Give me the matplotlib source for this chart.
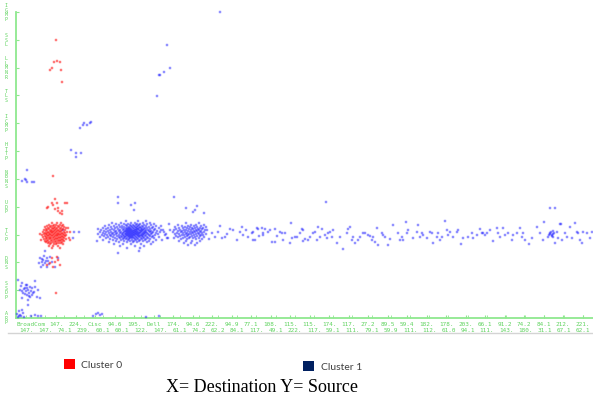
import matplotlib
matplotlib.use("Agg")
import matplotlib.pyplot as plt
from matplotlib.patches import Rectangle
from matplotlib.lines import Line2D

# ---------------- data (x: destination index, y: source index) -------------
x_labels_row1 = ["BroadCom", "147.", "224.", "Cisc", "94.6", "195.", "Dell", "174.", "94.6", "222.",
                 "94.9", "77.1", "108.", "115.", "115.", "174.", "117.", "27.2", "89.5", "59.4",
                 "182.", "178.", "203.", "66.1", "91.2", "74.2", "84.1", "212.", "221."]
x_labels_row2 = ["147.", "147.", "74.1", "239.", "60.1", "60.1", "122.", "147.", "61.1", "74.2",
                 "62.2", "84.1", "117.", "49.1", "222.", "117.", "59.1", "111.", "79.1", "59.9",
                 "111.", "112.", "61.0", "94.1", "111.", "143.", "180.", "31.1", "67.1", "62.1"]
y_labels = ["ARP", "SSDP", "DNS", "TCP", "UDP", "NBNS", "HTTP", "ICMP", "TLS", "LLMNR", "SSL", "IGMP"]

# Cluster 0 (red)
cluster0_points = [(40, 278), (38, 256), (41, 257), (44, 256), (36, 250), (34, 248), (45, 248), (46, 236),
                   (37, 142),
                   (39, 119), (41, 115), (36, 115), (32, 111), (42, 110), (46, 107), (49, 115), (51, 115),
                   (44, 105), (39, 109), (37, 113), (31, 110), (42, 107), (46, 104),
                   (24, 84), (53, 80), (52, 90), (25, 78), (54, 86), (54, 78),
                   (31, 53), (36, 60), (39, 56), (42, 58), (37, 51), (34, 55), (44, 53), (41, 61),
                   (40, 25)]
cluster0_blob_rows = {
    95: [36, 41, 45],
    93: [33, 38, 40, 44, 47],
    92: [31, 35, 37, 42, 46],
    91: [29, 34, 39, 43, 48],
    90: [32, 36, 38, 41, 45, 50],
    89: [30, 33, 37, 40, 44, 47],
    88: [28, 31, 35, 39, 42, 46, 49],
    87: [30, 34, 36, 38, 41, 43, 45],
    86: [27, 32, 35, 37, 40, 44, 48, 51],
    85: [29, 31, 33, 36, 39, 42, 46, 49],
    84: [28, 30, 34, 38, 41, 43, 45, 47],
    83: [26, 31, 33, 35, 37, 40, 42, 44, 48, 50],
    82: [29, 32, 36, 39, 41, 46, 49],
    81: [27, 30, 34, 38, 43, 45, 47],
    80: [31, 33, 35, 37, 40, 42, 44, 48],
    79: [28, 30, 34, 39, 41, 46, 50],
    78: [32, 36, 38, 43, 45, 47],
    77: [29, 31, 35, 40, 42, 44, 48],
    76: [30, 33, 37, 39, 46],
    75: [32, 35, 41, 43, 45],
    74: [34, 38, 40, 47],
    72: [33, 37, 42],
    70: [36, 44],
}

# Cluster 1 (blue)
cluster1_points = [(204, 306), (151, 273), (154, 250), (148, 246), (143, 243), (144, 243), (141, 222),
                   (64, 190), (67, 193), (68, 195), (71, 193), (74, 195), (75, 196),
                   (55, 168), (60, 165), (65, 165), (60, 161),
                   (11, 148), (6, 137), (9, 139), (10, 138), (11, 136), (16, 136), (18, 136),
                   (102, 121), (102, 115), (115, 113), (119, 115), (118, 108), (158, 121), (170, 110),
                   (181, 112), (179, 108), (177, 106), (188, 105), (310, 116), (534, 110), (539, 110),
                   (58, 86), (63, 86), (57, 80), (47, 88), (81, 77), (82, 89), (150, 84), (147, 88),
                   (152, 80), (102, 65), (123, 67),
                   (145, 92), (148, 86), (151, 80), (154, 88), (149, 83), (153, 94), (146, 78),
                   (29, 67), (24, 60), (27, 58), (31, 60), (26, 56), (29, 55), (32, 57), (34, 61),
                   (27, 53), (36, 56), (25, 51), (39, 51), (31, 51), (42, 60), (28, 62), (30, 57),
                   (33, 54), (26, 59), (23, 55),
                   (2, 38), (6, 35), (11, 33), (19, 37), (4, 28), (9, 30), (12, 28), (16, 30), (7, 25),
                   (11, 23), (14, 21), (17, 25), (21, 21), (12, 18), (6, 20), (24, 20), (12, 13), (22, 28),
                   (10, 27), (13, 25), (8, 29), (15, 27), (9, 24), (14, 31), (11, 30), (6, 27), (18, 26),
                   (13, 22), (10, 33), (16, 23), (5, 32), (19, 31),
                   (1, 4), (3, 7), (5, 2), (2, 1), (7, 5), (4, 3), (8, 1), (6, 8), (3, 2),
                   (15, 2), (19, 3), (22, 2), (25, 2), (77, 2), (80, 4), (82, 5), (84, 3), (86, 4),
                   (130, 1), (143, 2)]
cluster1_blob_rows = {
    97: [110, 122, 130],
    95: [96, 105, 115, 119, 127, 134],
    94: [100, 108, 112, 121, 124, 131, 138],
    93: [93, 103, 110, 114, 117, 120, 123, 128, 135],
    92: [89, 98, 106, 111, 115, 118, 122, 126, 130, 140],
    91: [95, 101, 104, 108, 113, 116, 119, 121, 124, 127, 133, 137],
    90: [87, 92, 99, 106, 110, 112, 114, 117, 120, 123, 125, 129, 131, 136, 143],
    89: [90, 96, 102, 108, 111, 113, 115, 118, 121, 122, 126, 128, 134, 139],
    88: [85, 94, 98, 104, 107, 110, 112, 114, 116, 119, 120, 123, 125, 127, 130, 132, 138, 145],
    87: [88, 92, 100, 103, 109, 111, 113, 115, 117, 118, 121, 124, 126, 129, 133, 135, 141],
    86: [84, 90, 95, 99, 105, 108, 110, 112, 114, 116, 119, 120, 122, 125, 128, 130, 134, 137, 144],
    85: [87, 93, 97, 101, 104, 107, 111, 113, 115, 117, 118, 121, 123, 124, 127, 129, 131, 136, 140],
    84: [82, 89, 96, 100, 106, 109, 110, 112, 114, 116, 119, 120, 122, 126, 128, 132, 135, 142],
    83: [86, 91, 94, 98, 103, 107, 111, 113, 115, 117, 118, 121, 123, 125, 127, 130, 133, 139],
    82: [88, 95, 101, 105, 108, 110, 112, 114, 116, 119, 122, 124, 126, 129, 134, 137],
    81: [84, 92, 97, 103, 106, 109, 113, 115, 117, 120, 123, 127, 131, 136, 143],
    80: [90, 99, 104, 108, 111, 114, 116, 118, 121, 125, 128, 132, 138],
    79: [94, 101, 107, 110, 113, 119, 122, 126, 130, 134],
    78: [87, 97, 105, 112, 116, 120, 124, 129, 140],
    77: [100, 108, 114, 118, 123, 127, 133],
    76: [93, 103, 111, 117, 121, 131, 137],
    74: [98, 107, 115, 125, 135],
    72: [104, 119, 128],
    70: [111, 124],
}
cluster1_group2_rows = {
    95: [170, 183],
    93: [162, 175, 180, 188],
    92: [166, 172, 178, 185],
    91: [159, 169, 174, 181, 190],
    90: [163, 167, 171, 176, 179, 184, 187],
    89: [160, 173, 177, 182, 186],
    88: [158, 164, 168, 170, 175, 180, 183, 189],
    87: [162, 166, 172, 178, 181, 185],
    86: [157, 165, 169, 174, 176, 179, 184, 188],
    85: [161, 167, 171, 177, 182, 186],
    84: [159, 163, 170, 173, 175, 180, 183, 190],
    83: [166, 168, 172, 178, 185, 187],
    82: [160, 164, 171, 176, 181, 184],
    81: [162, 169, 174, 179, 188],
    80: [158, 167, 173, 177, 183],
    79: [165, 171, 180, 186],
    77: [163, 170, 176, 184],
    75: [168, 175, 181],
    73: [172, 179],
}
cluster1_band = [(191, 88), (196, 85), (199, 81), (202, 86), (206, 80), (209, 81), (214, 89), (217, 88),
                 (221, 78), (226, 91), (227, 83), (232, 81), (237, 86), (239, 78), (246, 90), (247, 85),
                 (193, 79), (204, 92), (211, 84), (224, 86), (230, 88), (243, 82),
                 (236, 85), (237, 78), (241, 90), (242, 89), (247, 83), (249, 89), (252, 86), (254, 88),
                 (256, 76), (259, 76), (259, 89), (261, 82), (264, 86), (266, 85), (267, 78), (269, 85),
                 (274, 75), (275, 95), (276, 80), (279, 81), (281, 81), (284, 85), (286, 89), (287, 88),
                 (287, 77), (289, 79), (292, 78), (294, 81), (297, 85), (299, 86), (301, 78), (302, 91),
                 (304, 81), (306, 89), (309, 83), (311, 80), (312, 85), (314, 86), (316, 81), (317, 88),
                 (321, 75), (324, 81), (327, 69), (331, 85), (332, 89), (334, 91), (336, 78), (337, 81),
                 (339, 75), (342, 78), (344, 81), (347, 85), (349, 85), (352, 83), (354, 82), (356, 78),
                 (357, 81), (359, 76), (361, 90), (362, 73), (366, 85), (367, 83), (369, 81), (372, 73),
                 (374, 79), (377, 93), (382, 85), (384, 78), (386, 81), (387, 78), (390, 96), (391, 85),
                 (392, 88), (397, 80), (401, 86), (402, 93), (404, 81), (406, 85), (407, 83), (411, 80),
                 (414, 86), (416, 85), (417, 75), (421, 81), (422, 85), (424, 78), (426, 81), (429, 97),
                 (431, 88), (432, 83), (434, 86), (437, 81), (441, 86), (442, 88), (445, 74), (447, 80),
                 (452, 81), (456, 85), (457, 80), (461, 83), (464, 89), (466, 85), (467, 85), (469, 83),
                 (471, 85), (474, 88), (477, 77), (481, 90), (482, 85), (484, 81), (487, 90), (489, 83),
                 (492, 85), (496, 78), (497, 83), (501, 85), (504, 90), (506, 81), (507, 85), (509, 78),
                 (513, 74), (516, 80), (521, 91), (524, 85), (528, 96), (527, 78), (532, 81), (534, 85),
                 (536, 83), (537, 84), (539, 75), (537, 81), (541, 86), (542, 80), (544, 94), (545, 94),
                 (546, 78), (549, 85), (551, 81), (554, 91), (556, 80), (559, 95), (561, 86), (562, 85),
                 (564, 78), (566, 75), (567, 86), (571, 85), (574, 80), (576, 86),
                 (533, 83), (535, 86), (536, 82), (538, 85), (534, 84), (537, 87)]

legend_labels = ["Cluster 0", "Cluster 1"]
legend_colors = ["#ff0000", "#002060"]
caption = "X= Destination Y= Source"


def rows_to_xy(rows):
    xs, ys = [], []
    for yv, xvals in rows.items():
        for xv in xvals:
            xs.append(xv)
            ys.append(yv)
    return xs, ys


c0_x = [p[0] for p in cluster0_points]
c0_y = [p[1] for p in cluster0_points]
bx, by = rows_to_xy(cluster0_blob_rows)
c0_x += bx
c0_y += by

c1_x = [p[0] for p in cluster1_points + cluster1_band]
c1_y = [p[1] for p in cluster1_points + cluster1_band]
for rows in (cluster1_blob_rows, cluster1_group2_rows):
    bx, by = rows_to_xy(rows)
    c1_x += bx
    c1_y += by

# ---------------- figure -------------
W, H = 593, 396
fig = plt.figure(figsize=(W / 100, H / 100), dpi=100)
fig.patch.set_facecolor("white")
ax = fig.add_axes([16 / W, (H - 318) / H, 577 / W, 306 / H])
ax.set_xlim(0, 577)
ax.set_ylim(0, 306)

green = "#8fe88f"
label_green = "#5fd35f"

ax.scatter(c1_x, c1_y, marker="s", s=3.8, facecolor=(0, 0, 1, 0.32),
           edgecolor=(0.2, 0.2, 1, 0.5), linewidth=0.35, clip_on=False, zorder=3)
ax.scatter(c0_x, c0_y, marker="s", s=3.8, facecolor=(1, 0, 0, 0.42),
           edgecolor=(1, 0.2, 0.2, 0.6), linewidth=0.35, clip_on=False, zorder=4)

for s in ("top", "right"):
    ax.spines[s].set_visible(False)
for s in ("left", "bottom"):
    ax.spines[s].set_color(green)
    ax.spines[s].set_linewidth(1.3)

# x ticks: two staggered rows
row1_pos = [15] + [40 + 19.5 * k for k in range(len(x_labels_row1) - 1)]
row2_pos = [10 + 19.2 * k for k in range(len(x_labels_row2))]
ax.set_xticks(row1_pos)
ax.set_xticklabels(x_labels_row1)
ax.set_xticks(row2_pos, minor=True)
ax.set_xticklabels(x_labels_row2, minor=True)
ax.tick_params(axis="x", which="major", direction="in", length=2, color=green,
               labelsize=4.3, labelcolor=label_green, pad=3)
ax.tick_params(axis="x", which="minor", direction="in", length=2, color=green,
               labelsize=4.3, labelcolor=label_green, pad=7.5)
for t in ax.get_xticklabels(which="both"):
    t.set_fontfamily("DejaVu Sans Mono")

# y ticks with stacked letters
y_pos = [306 / 11 * k for k in range(len(y_labels))]
ax.set_yticks(y_pos)
ax.set_yticklabels(["\n".join(lbl) for lbl in y_labels])
ax.tick_params(axis="y", direction="in", length=2, color=green, labelsize=3.6,
               labelcolor=label_green, pad=3)
for t in ax.get_yticklabels():
    t.set_fontfamily("DejaVu Sans Mono")
    t.set_linespacing(0.9)
    t.set_horizontalalignment("center")
    t.set_x(-0.010)

# thin gray rule under the tick labels
fig.add_artist(Line2D([8 / W, 1.0], [(H - 333) / H] * 2, color="#d4d4d4", linewidth=1.0))

# legend
sq_y = [(H - 369) / H, (H - 371) / H]
sq_x = [64 / W, 303 / W]
txt_x = [81 / W, 321 / W]
for i, lbl in enumerate(legend_labels):
    fig.add_artist(Rectangle((sq_x[i], sq_y[i]), 11 / W, 10 / H, transform=fig.transFigure,
                             facecolor=legend_colors[i], edgecolor="none"))
    fig.text(txt_x[i], sq_y[i] + 4 / H, lbl, fontsize=7.5, family="Lato", color="#404040",
             ha="left", va="center")

fig.text(262 / W, (H - 387) / H, caption, fontsize=13, family="Liberation Serif",
         color="black", ha="center", va="center")

fig.savefig("out.png", dpi=100)
